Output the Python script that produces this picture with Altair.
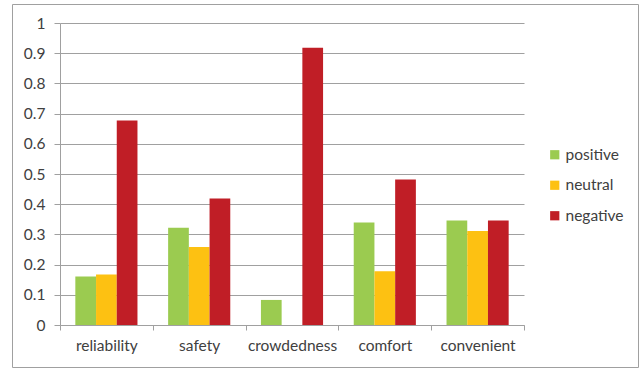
import altair as alt
import pandas as pd

categories = ["reliability", "safety", "crowdedness", "comfort", "convenient"]
series = ["positive", "neutral", "negative"]
positive = [0.161, 0.322, 0.083, 0.339, 0.346]
neutral = [0.167, 0.258, 0.0, 0.178, 0.311]
negative = [0.677, 0.419, 0.918, 0.482, 0.346]
colors = ["#9BCB50", "#FDC112", "#C01E26"]
y_ticks = [0, 0.1, 0.2, 0.3, 0.4, 0.5, 0.6, 0.7, 0.8, 0.9, 1]

rows = []
for i, c in enumerate(categories):
    for s, vals in zip(series, [positive, neutral, negative]):
        rows.append({"category": c, "series": s, "value": vals[i]})
df = pd.DataFrame(rows)

FONT = "Lato"
FS = 15.5
TXT = "#404040"
GRID = "#a0a0a0"

bars = alt.Chart(df).mark_bar().encode(
    x=alt.X(
        "category:N",
        sort=categories,
        scale=alt.Scale(paddingInner=0, paddingOuter=0),
        axis=alt.Axis(
            title=None, labelAngle=0, tickBand="extent", tickSize=5,
            tickColor=GRID, domainColor=GRID, labelPadding=8,
            labelFont=FONT, labelFontSize=FS, labelColor=TXT, grid=False,
        ),
    ),
    xOffset=alt.XOffset(
        "series:N", sort=series,
        scale=alt.Scale(paddingOuter=0.74, paddingInner=0),
    ),
    y=alt.Y(
        "value:Q",
        scale=alt.Scale(domain=[0, 1]),
        axis=alt.Axis(
            title=None, values=y_ticks, format="~g", tickSize=6,
            tickColor=GRID, domainColor=GRID, gridColor=GRID, grid=True,
            labelPadding=9, labelFont=FONT, labelFontSize=FS, labelColor=TXT,
        ),
    ),
    color=alt.Color(
        "series:N",
        sort=series,
        scale=alt.Scale(domain=series, range=colors),
        legend=alt.Legend(
            title=None, orient="none", legendX=487, legendY=124,
            symbolType="square", symbolSize=85, symbolStrokeWidth=0,
            labelFont=FONT, labelFontSize=FS, labelColor=TXT,
            rowPadding=13.5, padding=0, labelOffset=3,
        ),
    ),
)

border_df = pd.DataFrame({"a": [0]})
border = alt.Chart(border_df).mark_rect(
    fill="transparent", stroke=GRID, strokeWidth=1
).encode(
    x=alt.value(-47.5), x2=alt.value(578.5),
    y=alt.value(-18.5), y2=alt.value(344.5),
)

chart = alt.layer(bars, border).properties(
    width=464,
    height=302,
    autosize=alt.AutoSizeParams(type="none"),
    padding={"left": 60, "top": 23, "right": 115, "bottom": 44},
).configure_view(strokeWidth=0)

chart.save("out.html", embed_options={"renderer": "svg", "actions": False})
